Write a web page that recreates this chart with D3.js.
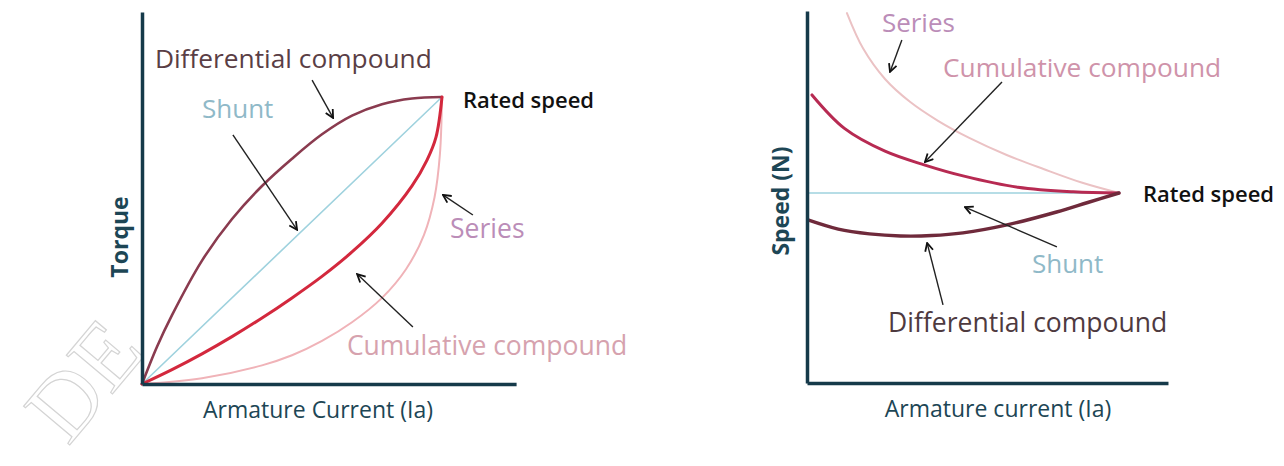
<!DOCTYPE html>
<html>
<head>
<meta charset="utf-8">
<script src="https://cdn.jsdelivr.net/npm/d3@7"></script>
<style>
  body { margin: 0; background: #fff; }
  text { font-family: "Open Sans", sans-serif; }
</style>
</head>
<body>
<div id="corpo"></div>
<script>
/*==== dados: torque x armature current (esquerda) ====*/
var torqShuntX = [0, 1];
var torqShuntY = [0, 1];
var torqDiffX = [0, 0.05, 0.1, 0.2, 0.3, 0.4, 0.5, 0.6, 0.7, 0.8, 0.9, 1.0];
var torqDiffY = [0, 0.13, 0.24, 0.43, 0.575, 0.69, 0.785, 0.87, 0.935, 0.975, 0.995, 1.0];
var torqCumX = [0, 0.1, 0.2, 0.3, 0.4, 0.5, 0.6, 0.7, 0.8, 0.9, 0.95, 0.98, 1.0];
var torqCumY = [0, 0.05, 0.105, 0.165, 0.23, 0.30, 0.375, 0.46, 0.56, 0.69, 0.78, 0.86, 1.0];
var torqSerX = [0, 0.2, 0.4, 0.5, 0.6, 0.7, 0.8, 0.88, 0.94, 0.975, 0.993, 1.0];
var torqSerY = [0, 0.02, 0.065, 0.10, 0.15, 0.215, 0.30, 0.40, 0.52, 0.65, 0.80, 1.0];

/*==== dados: speed x armature current (direita) ====*/
var spdShuntX = [0, 1];
var spdShuntY = [1, 1];
var spdCumX = [0.016, 0.12, 0.25, 0.378, 0.5, 0.676, 0.853, 1.0];
var spdCumY = [1.516, 1.34, 1.22, 1.147, 1.09, 1.03, 1.006, 1.0];
var spdSerX = [0.128, 0.18, 0.25, 0.33, 0.42, 0.52, 0.64, 0.76, 0.88, 1.0];
var spdSerY = [1.947, 1.76, 1.60, 1.48, 1.38, 1.29, 1.20, 1.125, 1.055, 1.0];
var spdDiffX = [0.003, 0.1, 0.2, 0.3, 0.4, 0.5, 0.641, 0.8, 0.9, 1.0];
var spdDiffY = [0.858, 0.81, 0.785, 0.774, 0.776, 0.79, 0.832, 0.9, 0.95, 1.0];

function pares(xs, ys) {
    return xs.map(function (x, i) { return {x: x, y: ys[i]}; });
}

var svg = d3.select("#corpo").append("svg")
    .attr("width", 1284)
    .attr("height", 466);

// marca d'agua
svg.append("text")
    .attr("transform", "translate(68,447) rotate(-50)")
    .style("font-family", "Liberation Serif")
    .style("font-size", "92px")
    .attr("fill", "none")
    .attr("stroke", "#d4d4d4")
    .attr("stroke-width", 1.2)
    .text("DE");

var fundo = "#163a4a";

svg.append("defs").append("marker")
    .attr("id", "seta")
    .attr("viewBox", "0 0 10 10")
    .attr("refX", 9).attr("refY", 5)
    .attr("markerWidth", 10).attr("markerHeight", 10)
    .attr("markerUnits", "userSpaceOnUse")
    .attr("orient", "auto")
    .append("path")
    .attr("d", "M1,1 L9,5 L1,9")
    .attr("fill", "none")
    .attr("stroke", "#111")
    .attr("stroke-width", 1.8);

function grafico(cfg) {
    var x = d3.scaleLinear().domain([0, 1]).range([cfg.x0, cfg.x1]);
    var y = d3.scaleLinear().domain([0, cfg.yRated]).range([cfg.y0, cfg.y1]);
    var g = svg.append("g");

    var linha = d3.line()
        .x(function (d) { return x(d.x); })
        .y(function (d) { return y(d.y); })
        .curve(d3.curveCatmullRom.alpha(0.5));

    cfg.series.forEach(function (s) {
        g.append("path")
            .datum(s.dados)
            .attr("fill", "none")
            .attr("stroke", s.cor)
            .attr("stroke-width", s.w)
            .attr("stroke-linecap", "round")
            .attr("d", linha);
    });

    // eixos (sem ticks)
    var xa = x.copy().domain([0, cfg.xMax]).range([cfg.x0, cfg.x0 + (cfg.x1 - cfg.x0) * cfg.xMax]);
    var ya = y.copy().domain([0, cfg.yMax]).range([cfg.y0, cfg.y0 - (cfg.y0 - cfg.y1) * cfg.yMax / cfg.yRated]);
    g.append("g").attr("transform", "translate(0," + cfg.y0 + ")")
        .call(d3.axisBottom(xa).tickValues([]).tickSizeOuter(0));
    g.append("g").attr("transform", "translate(" + cfg.x0 + ",0)")
        .call(d3.axisLeft(ya).tickValues([]).tickSizeOuter(0));
    g.selectAll(".domain").attr("stroke", fundo).attr("stroke-width", 3.5);

    // setas
    cfg.setas.forEach(function (a) {
        g.append("line")
            .attr("x1", x(a[0])).attr("y1", y(a[1]))
            .attr("x2", x(a[2])).attr("y2", y(a[3]))
            .attr("stroke", "#222")
            .attr("stroke-width", 1.4)
            .attr("marker-end", "url(#seta)");
    });

    // rotulos
    cfg.rotulos.forEach(function (r) {
        g.append("text")
            .attr("x", x(r.x)).attr("y", y(r.y))
            .attr("fill", r.cor)
            .style("font-size", r.size + "px")
            .style("font-weight", r.peso || 400)
            .text(r.t);
    });

    g.append("text")
        .attr("x", cfg.xLabel[0]).attr("y", cfg.xLabel[1])
        .attr("text-anchor", "middle")
        .attr("fill", "#1d4655")
        .style("font-size", "23px")
        .style("font-weight", 500)
        .text(cfg.xTitulo);

    g.append("text")
        .attr("transform", "translate(" + cfg.yLabel[0] + "," + cfg.yLabel[1] + ") rotate(-90)")
        .attr("text-anchor", "middle")
        .attr("fill", "#1d4655")
        .style("font-size", "23px")
        .style("font-weight", 700)
        .text(cfg.yTitulo);
}

grafico({
    x0: 142, x1: 442, y0: 384, y1: 97, yRated: 1, xMax: 1.247, yMax: 1.296,
    series: [
        {dados: pares(torqSerX, torqSerY), cor: "#f0b3b8", w: 2},
        {dados: pares(torqShuntX, torqShuntY), cor: "#9fd2de", w: 1.6},
        {dados: pares(torqDiffX, torqDiffY), cor: "#8a3b4f", w: 2.6},
        {dados: pares(torqCumX, torqCumY), cor: "#d3283d", w: 3}
    ],
    setas: [
        [0.567, 1.059, 0.637, 0.927],
        [0.303, 0.868, 0.517, 0.537],
        [1.103, 0.589, 1.003, 0.659],
        [0.903, 0.199, 0.717, 0.383]
    ],
    rotulos: [
        {t: "Differential compound", x: 0.043, y: 1.101, cor: "#5a3e45", size: 26.3},
        {t: "Shunt", x: 0.2, y: 0.927, cor: "#8fb9c8", size: 26},
        {t: "Rated speed", x: 1.07, y: 0.962, cor: "#111", size: 22, peso: 600},
        {t: "Series", x: 1.027, y: 0.509, cor: "#bb8db8", size: 26.5},
        {t: "Cumulative compound", x: 0.683, y: 0.101, cor: "#d6a2ae", size: 26.5}
    ],
    xTitulo: "Armature Current (Ia)", xLabel: [318, 418],
    yTitulo: "Torque", yLabel: [128, 237]
});

grafico({
    x0: 807, x1: 1119, y0: 383, y1: 193, yRated: 1, xMax: 1.157, yMax: 1.958,
    series: [
        {dados: pares(spdSerX, spdSerY), cor: "#ebc2c4", w: 2},
        {dados: pares(spdShuntX, spdShuntY), cor: "#9fd2de", w: 1.4},
        {dados: pares(spdCumX, spdCumY), cor: "#b72a52", w: 3},
        {dados: pares(spdDiffX, spdDiffY), cor: "#6f2a3b", w: 3.4}
    ],
    setas: [
        [0.304, 1.805, 0.266, 1.637],
        [0.625, 1.584, 0.378, 1.163],
        [0.801, 0.716, 0.506, 0.926],
        [0.436, 0.411, 0.385, 0.737]
    ],
    rotulos: [
        {t: "Series", x: 0.24, y: 1.847, cor: "#bb8db8", size: 26},
        {t: "Cumulative compound", x: 0.436, y: 1.611, cor: "#cf93aa", size: 26.3},
        {t: "Rated speed", x: 1.077, y: 0.953, cor: "#111", size: 22, peso: 600},
        {t: "Shunt", x: 0.721, y: 0.579, cor: "#8fb9c8", size: 26},
        {t: "Differential compound", x: 0.26, y: 0.268, cor: "#4e3a3f", size: 26.5}
    ],
    xTitulo: "Armature current (Ia)", xLabel: [998, 417],
    yTitulo: "Speed (N)", yLabel: [789, 201]
});
</script>
</body>
</html>
